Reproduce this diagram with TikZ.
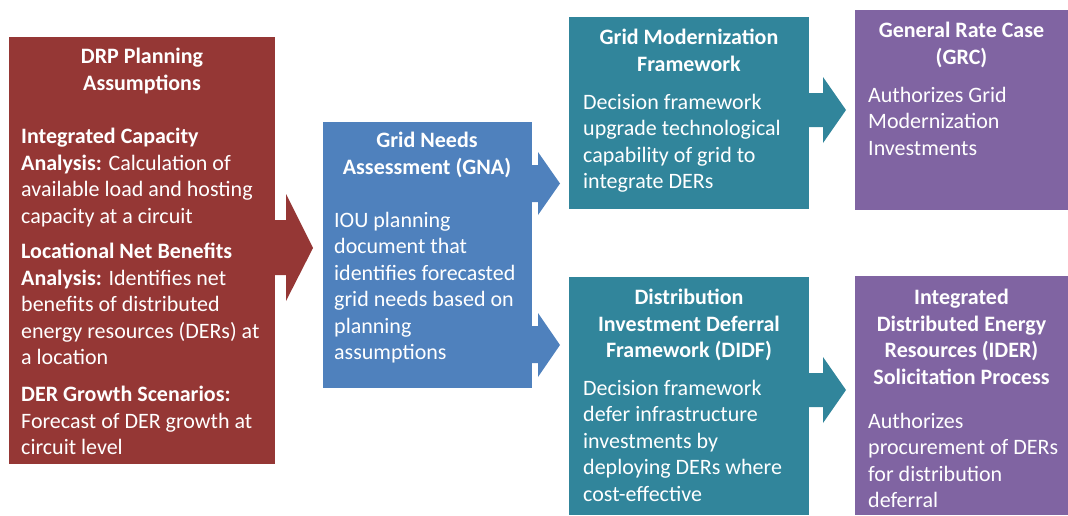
\documentclass[tikz,border=0pt]{standalone}
\usepackage{fontspec}
\setmainfont{Carlito}
\usepackage{xcolor}

\definecolor{drpred}{RGB}{149,55,53}
\definecolor{gnablue}{RGB}{79,129,189}
\definecolor{frameteal}{RGB}{49,133,155}
\definecolor{procpurple}{RGB}{128,100,162}

\tikzset{
  box/.style={fill=#1, draw=none, inner sep=0pt},
  boxtitle/.style={anchor=north, align=center, text=white, inner sep=0pt,
    font=\fontsize{22}{26.5}\selectfont\bfseries},
  boxbody/.style={anchor=north west, align=left, text=white, inner sep=0pt,
    font=\fontsize{22}{26.5}\selectfont}
}

\begin{document}
\begin{tikzpicture}[x=1pt, y=-1pt]
  \useasboundingbox (0,0) rectangle (1068,515);

  % Boxes
  \node[box=drpred, minimum width=266, minimum height=427] (drp) at (142, 250.5) {};
  \node[box=gnablue, minimum width=209, minimum height=266] (gna) at (427, 255) {};
  \node[box=frameteal, minimum width=240, minimum height=192] (gmf) at (689, 113) {};
  \node[box=frameteal, minimum width=240, minimum height=238] (didf) at (689, 396) {};
  \node[box=procpurple, minimum width=213, minimum height=200] (grc) at (961.5, 110) {};
  \node[box=procpurple, minimum width=213, minimum height=239] (ider) at (961.5, 395.5) {};

  % Arrows
  \fill[drpred] (drp.east |- 0,220) -- (286,220) -- (286,194) -- (313,248)
     -- (286,301) -- (286,275) -- (drp.east |- 0,275) -- cycle;
  \fill[gnablue] (gna.east |- 0,165) -- (538,165) -- (538,152) -- (560,183.5)
     -- (538,215) -- (538,202) -- (gna.east |- 0,202) -- cycle;
  \fill[gnablue] (gna.east |- 0,326) -- (538,326) -- (538,313) -- (560,345)
     -- (538,377) -- (538,363) -- (gna.east |- 0,363) -- cycle;
  \fill[frameteal] (gmf.east |- 0,93) -- (823,93) -- (823,77) -- (846,110)
     -- (823,143) -- (823,127) -- (gmf.east |- 0,127) -- cycle;
  \fill[frameteal] (didf.east |- 0,373) -- (823,373) -- (823,357) -- (846,390)
     -- (823,423) -- (823,407) -- (didf.east |- 0,407) -- cycle;

  % DRP planning assumptions
  \node[boxtitle] (drptitle) at (142, 48) {DRP Planning\\Assumptions};
  \node[boxbody] (ica) at (21, 128)
    {\textbf{Integrated Capacity}\\\textbf{Analysis:} Calculation of\\available load and hosting\\capacity at a circuit};
  \node[boxbody] (lnba) at (21, 243)
    {\textbf{Locational Net Benefits}\\\textbf{Analysis:} Identifies net\\benefits of distributed\\energy resources (DERs) at\\a location};
  \node[boxbody] (dergs) at (21, 386)
    {\textbf{DER Growth Scenarios:}\\Forecast of DER growth at\\circuit level};

  % Grid needs assessment
  \node[boxtitle] (gnatitle) at (427, 132) {Grid Needs\\Assessment (GNA)};
  \node[boxbody] (gnatext) at (334, 212)
    {IOU planning\\document that\\identifies forecasted\\grid needs based on\\planning\\assumptions};

  % Frameworks
  \node[boxtitle] (gmftitle) at (689, 29) {Grid Modernization\\Framework};
  \node[boxbody] (gmftext) at (583, 94)
    {Decision framework\\upgrade technological\\capability of grid to\\integrate DERs};
  \node[boxtitle] (didftitle) at (689, 289) {Distribution\\Investment Deferral\\Framework (DIDF)};
  \node[boxbody] (didftext) at (583, 380)
    {Decision framework\\defer infrastructure\\investments by\\deploying DERs where\\cost-effective};

  % Authorizing processes
  \node[boxtitle] (grctitle) at (961.5, 22) {General Rate Case\\(GRC)};
  \node[boxbody] (grctext) at (868, 87)
    {Authorizes Grid\\Modernization\\Investments};
  \node[boxtitle] (idertitle) at (961.5, 289)
    {Integrated\\Distributed Energy\\Resources (IDER)\\Solicitation Process};
  \node[boxbody] (idertext) at (868, 413)
    {Authorizes\\procurement of DERs\\for distribution\\deferral};
\end{tikzpicture}
\end{document}
